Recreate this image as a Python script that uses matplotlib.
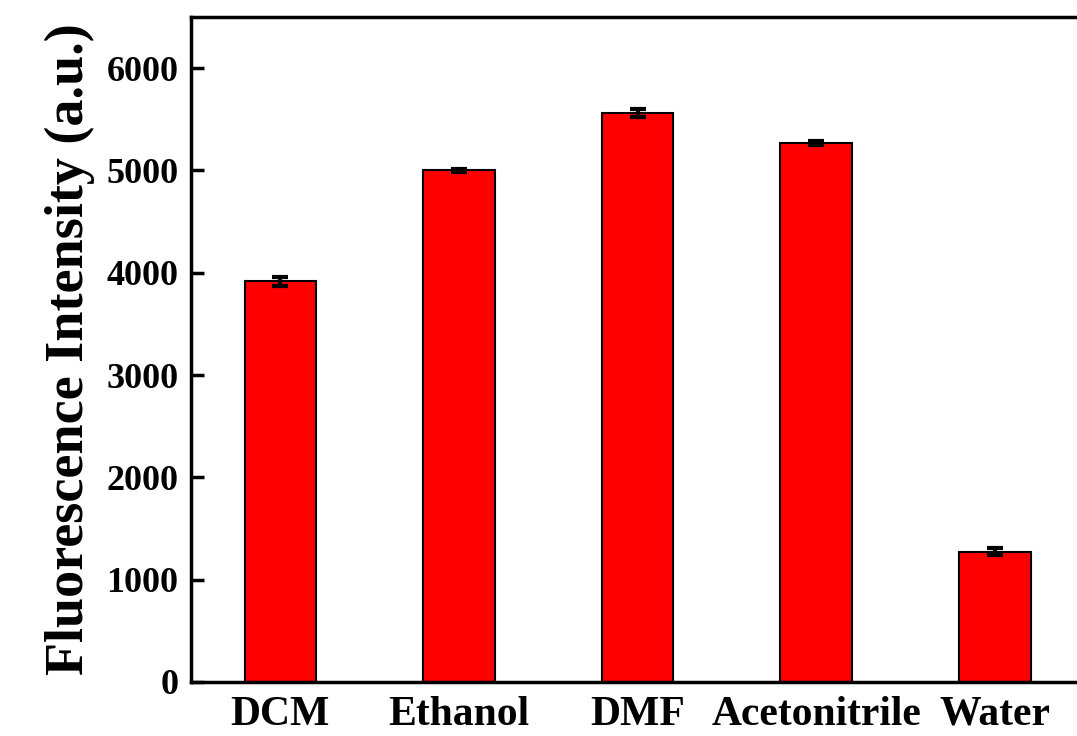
import numpy as np
import matplotlib
matplotlib.use('Agg')
import matplotlib.pyplot as plt

solvents = ['DCM', 'Ethanol', 'DMF', 'Acetonitrile', 'Water']
intensity = [3915, 5000, 5560, 5268, 1272]
errors = [40, 18, 40, 18, 35]

plt.rcParams['font.family'] = ['Liberation Serif', 'DejaVu Serif']
plt.rcParams['font.weight'] = 'bold'

fig = plt.figure(figsize=(10.77, 7.36), dpi=100)
ax = fig.add_axes([0.1773, 0.0734, 0.8227, 0.9036])

x = np.arange(1, len(solvents) + 1)
ax.bar(x, intensity, width=0.40, color='#ff0000', edgecolor='black', linewidth=1.5, zorder=2)
ax.errorbar(x, intensity, yerr=errors, fmt='none', ecolor='black', elinewidth=3,
            capsize=6, capthick=3, zorder=3)

ax.set_xlim(0.5, 5.46)
ax.set_ylim(0, 6500)
ax.set_yticks([0, 1000, 2000, 3000, 4000, 5000, 6000])
ax.set_xticks(x)
ax.set_xticklabels(solvents, fontsize=30, fontweight='bold')
for lab in ax.get_yticklabels():
    lab.set_fontsize(26)
    lab.set_fontweight('bold')

ax.spines['right'].set_visible(False)
for s in ['left', 'top', 'bottom']:
    ax.spines[s].set_linewidth(2.5)

ax.tick_params(axis='y', direction='in', length=9, width=2.5, pad=9)
ax.tick_params(axis='x', length=0, pad=10)

ax.set_ylabel('Fluorescence Intensity (a.u.)', fontsize=39, fontweight='bold', labelpad=8)

fig.savefig('out.png', dpi=100)
